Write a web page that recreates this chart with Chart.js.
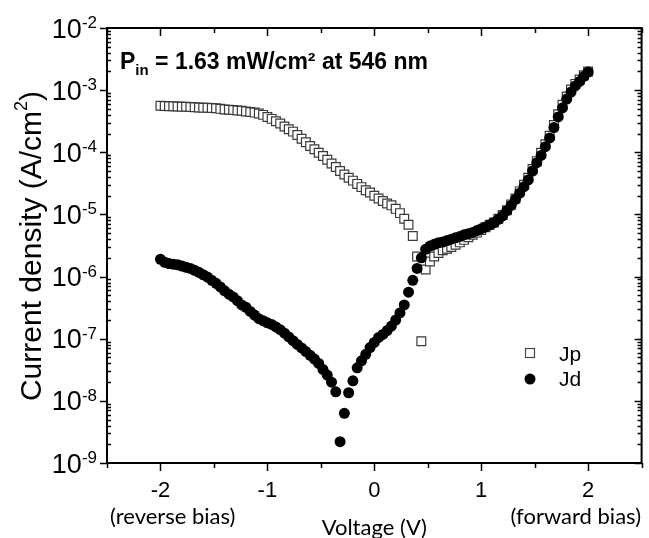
<!DOCTYPE html>
<html>
<head>
<meta charset="utf-8">
<script src="https://cdn.jsdelivr.net/npm/chart.js@4"></script>
<style>
  html, body { margin: 0; padding: 0; background: #fff; }
  #wrap { width: 649px; height: 538px; position: relative; }
</style>
</head>
<body>
<div id="wrap"><canvas id="ivChart"></canvas></div>
<script>
// voltage sweep (V)
const voltage = [
  -2, -1.96, -1.92, -1.88, -1.84, -1.8, -1.76, -1.72, -1.68, -1.64,
  -1.6, -1.56, -1.52, -1.48, -1.44, -1.4, -1.36, -1.32, -1.28, -1.24,
  -1.2, -1.16, -1.12, -1.08, -1.04, -1, -0.96, -0.92, -0.88, -0.84,
  -0.8, -0.76, -0.72, -0.68, -0.64, -0.6, -0.56, -0.52, -0.48, -0.44,
  -0.4, -0.36, -0.32, -0.28, -0.24, -0.2, -0.16, -0.12, -0.08, -0.04,
  0, 0.04, 0.08, 0.12, 0.16, 0.2, 0.24, 0.28, 0.32, 0.36,
  0.4, 0.44, 0.48, 0.52, 0.56, 0.6, 0.64, 0.68, 0.72, 0.76,
  0.8, 0.84, 0.88, 0.92, 0.96, 1, 1.04, 1.08, 1.12, 1.16,
  1.2, 1.24, 1.28, 1.32, 1.36, 1.4, 1.44, 1.48, 1.52, 1.56,
  1.6, 1.64, 1.68, 1.72, 1.76, 1.8, 1.84, 1.88, 1.92, 1.96, 2
];

// photo current density Jp (A/cm2)
const jp = [
  5.6e-4, 5.55e-4, 5.5e-4, 5.5e-4, 5.45e-4, 5.4e-4, 5.4e-4, 5.35e-4, 5.3e-4, 5.25e-4,
  5.2e-4, 5.2e-4, 5.15e-4, 5.1e-4, 5.0e-4, 4.9e-4, 4.85e-4, 4.8e-4, 4.7e-4, 4.65e-4,
  4.55e-4, 4.45e-4, 4.35e-4, 4.2e-4, 4.0e-4, 3.7e-4, 3.45e-4, 3.15e-4, 2.9e-4, 2.6e-4,
  2.35e-4, 2.15e-4, 1.9e-4, 1.65e-4, 1.45e-4, 1.26e-4, 1.12e-4, 9.8e-5, 8.7e-5, 7.6e-5,
  6.6e-5, 5.8e-5, 5.0e-5, 4.4e-5, 3.9e-5, 3.5e-5, 3.1e-5, 2.75e-5, 2.45e-5, 2.25e-5,
  2.0e-5, 1.8e-5, 1.65e-5, 1.5e-5, 1.4e-5, 1.23e-5, 1.05e-5, 8.5e-6, 6.8e-6, 4.5e-6,
  2.1e-6, 9.1e-8, 1.3e-6, 1.75e-6, 2.1e-6, 2.4e-6, 2.65e-6, 2.8e-6, 3.0e-6, 3.25e-6,
  3.55e-6, 3.9e-6, 4.3e-6, 4.7e-6, 5.1e-6, 5.6e-6, 6.2e-6, 6.8e-6, 7.4e-6, 8.5e-6,
  9.8e-6, 1.17e-5, 1.45e-5, 1.8e-5, 2.35e-5, 3.0e-5, 3.9e-5, 5.4e-5, 7.2e-5, 9.8e-5,
  1.35e-4, 1.85e-4, 2.75e-4, 4.1e-4, 5.8e-4, 7.9e-4, 1.02e-3, 1.26e-3, 1.48e-3, 1.74e-3,
  2.0e-3
];

// dark current density Jd (A/cm2)
const jd = [
  1.9e-6, 1.7e-6, 1.62e-6, 1.58e-6, 1.55e-6, 1.48e-6, 1.41e-6, 1.35e-6, 1.26e-6, 1.17e-6,
  1.07e-6, 9.8e-7, 8.7e-7, 7.8e-7, 6.8e-7, 5.9e-7, 5.2e-7, 4.7e-7, 4.1e-7, 3.5e-7,
  3.2e-7, 2.75e-7, 2.4e-7, 2.1e-7, 1.95e-7, 1.8e-7, 1.7e-7, 1.55e-7, 1.4e-7, 1.23e-7,
  1.07e-7, 9.3e-8, 8.1e-8, 7.1e-8, 6.2e-8, 5.4e-8, 4.7e-8, 4.0e-8, 3.2e-8, 2.6e-8,
  2.0e-8, 1.4e-8, 2.2e-9, 6.3e-9, 1.35e-8, 2.1e-8, 3.4e-8, 4.4e-8, 5.6e-8, 7.2e-8,
  8.7e-8, 1.05e-7, 1.17e-7, 1.35e-7, 1.6e-7, 2.0e-7, 2.6e-7, 3.5e-7, 5.6e-7, 8.7e-7,
  1.35e-6, 2.0e-6, 2.75e-6, 3.1e-6, 3.3e-6, 3.5e-6, 3.6e-6, 3.8e-6, 4.0e-6, 4.2e-6,
  4.4e-6, 4.7e-6, 4.9e-6, 5.1e-6, 5.5e-6, 5.9e-6, 6.3e-6, 6.8e-6, 7.4e-6, 8.3e-6,
  9.5e-6, 1.15e-5, 1.4e-5, 1.75e-5, 2.2e-5, 2.8e-5, 3.6e-5, 5.0e-5, 6.8e-5, 8.9e-5,
  1.23e-4, 1.7e-4, 2.5e-4, 3.7e-4, 5.2e-4, 7.2e-4, 9.3e-4, 1.17e-3, 1.38e-3, 1.66e-3,
  1.95e-3
];

const xTickValues = [-2, -1, 0, 1, 2];
const xTickMarks = [-2.5, -2, -1.5, -1, -0.5, 0, 0.5, 1, 1.5, 2, 2.5];
const yTickExponents = [-9, -8, -7, -6, -5, -4, -3, -2];

const sans = "'Liberation Sans', Arial, sans-serif";
const sans2 = "Lato, 'Open Sans', sans-serif";

const decorations = {
  id: 'decorations',
  beforeDatasetsDraw(chart) {
    const { ctx, chartArea: a, scales: { x, y } } = chart;
    ctx.save();
    ctx.strokeStyle = '#000';
    ctx.lineWidth = 2;
    ctx.strokeRect(a.left, a.top, a.right - a.left, a.bottom - a.top);
    ctx.lineWidth = 1.5;
    ctx.beginPath();
    xTickMarks.forEach(v => {
      const px = Math.round(x.getPixelForValue(v)) + 0.5;
      const len = Number.isInteger(v) ? 8 : 5;
      ctx.moveTo(px, a.bottom); ctx.lineTo(px, a.bottom + len);
      ctx.moveTo(px, a.top); ctx.lineTo(px, a.top + len);
    });
    yTickExponents.forEach(e => {
      const py = Math.round(y.getPixelForValue(Math.pow(10, e))) + 0.5;
      ctx.moveTo(a.left - 7, py); ctx.lineTo(a.left, py);
      ctx.moveTo(a.right, py); ctx.lineTo(a.right - 7, py);
      if (e < -2) {
        for (let m = 2; m <= 9; m++) {
          const pm = Math.round(y.getPixelForValue(m * Math.pow(10, e))) + 0.5;
          ctx.moveTo(a.left, pm); ctx.lineTo(a.left + 4, pm);
          ctx.moveTo(a.right, pm); ctx.lineTo(a.right - 4, pm);
        }
      }
    });
    ctx.stroke();
    ctx.restore();
  },
  afterDraw(chart) {
    const { ctx, chartArea: a, scales: { y } } = chart;
    ctx.save();
    ctx.fillStyle = '#000';

    // y tick labels 10^n
    yTickExponents.forEach(e => {
      const py = y.getPixelForValue(Math.pow(10, e));
      ctx.textAlign = 'right';
      ctx.textBaseline = 'alphabetic';
      ctx.font = '17px ' + sans;
      const sup = String(e);
      const sw = ctx.measureText(sup).width;
      ctx.fillText(sup, a.left - 10, py);
      ctx.font = '27px ' + sans;
      ctx.fillText('10', a.left - 10 - sw, py + 9.5);
    });

    // y axis title
    ctx.save();
    ctx.translate(31, 246);
    ctx.rotate(-Math.PI / 2);
    ctx.textAlign = 'left';
    ctx.textBaseline = 'alphabetic';
    ctx.font = '30px ' + sans;
    const t1 = 'Current density (A/cm';
    const w1 = ctx.measureText(t1).width;
    ctx.font = '18px ' + sans;
    const w2 = ctx.measureText('2').width;
    ctx.font = '30px ' + sans;
    const w3 = ctx.measureText(')').width;
    const sx = -(w1 + w2 + w3) / 2;
    ctx.fillText(t1, sx, 10);
    ctx.font = '18px ' + sans;
    ctx.fillText('2', sx + w1, -4);
    ctx.font = '30px ' + sans;
    ctx.fillText(')', sx + w1 + w2, 10);
    ctx.restore();

    // x axis title and bias notes
    ctx.font = '22px ' + sans2;
    ctx.textBaseline = 'alphabetic';
    ctx.textAlign = 'center';
    ctx.fillText('Voltage (V)', (a.left + a.right) / 2, 535);
    ctx.textAlign = 'left';
    ctx.fillText('(reverse bias)', 110, 524);
    ctx.textAlign = 'right';
    ctx.fillText('(forward bias)', 641, 524);

    // illumination note
    ctx.textAlign = 'left';
    let tx = 120;
    ctx.font = 'bold 23px ' + sans;
    ctx.fillText('P', tx, 69);
    tx += ctx.measureText('P').width;
    ctx.font = 'bold 15px ' + sans;
    ctx.fillText('in', tx, 75);
    tx += ctx.measureText('in').width;
    ctx.font = 'bold 23px ' + sans;
    ctx.fillText(' = 1.63 mW/cm\u00B2 at 546 nm', tx, 69);

    // legend
    ctx.lineWidth = 1.2;
    ctx.strokeStyle = '#444';
    ctx.fillStyle = '#fff';
    ctx.fillRect(525.5, 348.5, 9, 9);
    ctx.strokeRect(525.5, 348.5, 9, 9);
    ctx.fillStyle = '#000';
    ctx.beginPath();
    ctx.arc(530, 379, 5.5, 0, Math.PI * 2);
    ctx.fill();
    ctx.font = '21px ' + sans;
    ctx.textBaseline = 'middle';
    ctx.textAlign = 'left';
    ctx.fillText('Jp', 559, 355);
    ctx.fillText('Jd', 559, 380);
    ctx.restore();
  }
};

const ctx = document.getElementById('ivChart').getContext('2d');
new Chart(ctx, {
  type: 'scatter',
  data: {
    datasets: [
      {
        label: 'Jp',
        data: voltage.map((v, i) => ({ x: v, y: jp[i] })),
        pointStyle: 'rect',
        pointRadius: 6.2,
        backgroundColor: '#fff',
        borderColor: '#3a3a3a',
        borderWidth: 1.2,
        order: 1
      },
      {
        label: 'Jd',
        data: voltage.map((v, i) => ({ x: v, y: jd[i] })),
        pointStyle: 'circle',
        pointRadius: 5.5,
        backgroundColor: '#000',
        borderColor: '#000',
        borderWidth: 0,
        order: 0
      }
    ]
  },
  options: {
    responsive: true,
    maintainAspectRatio: false,
    animation: false,
    devicePixelRatio: 1,
    layout: { padding: { top: 28, right: 4, left: 0, bottom: 0 } },
    plugins: { legend: { display: false }, tooltip: { enabled: false } },
    scales: {
      x: {
        type: 'linear',
        min: -2.5,
        max: 2.5,
        afterBuildTicks: s => { s.ticks = xTickValues.map(v => ({ value: v })); },
        afterFit: s => { s.height = 75; },
        grid: { display: false, drawTicks: false },
        border: { display: false },
        ticks: {
          color: '#000',
          padding: 15,
          maxRotation: 0,
          font: { family: sans, size: 22 }
        }
      },
      y: {
        type: 'logarithmic',
        min: 1e-9,
        max: 1e-2,
        afterBuildTicks: s => { s.ticks = yTickExponents.map(e => ({ value: Math.pow(10, e) })); },
        afterFit: s => { s.width = 107; },
        grid: { display: false, drawTicks: false },
        border: { display: false },
        ticks: { display: false }
      }
    }
  },
  plugins: [decorations]
});
</script>
</body>
</html>
